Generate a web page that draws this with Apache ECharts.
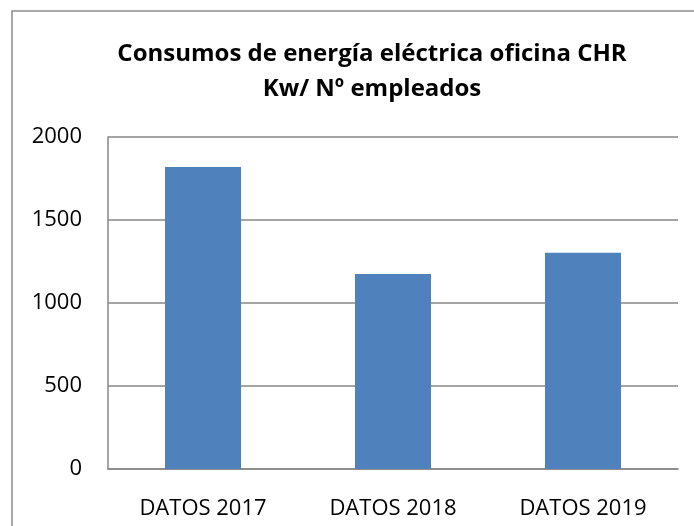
<!DOCTYPE html>
<html>
<head>
<meta charset="utf-8">
<script src="https://cdn.jsdelivr.net/npm/echarts@6/dist/echarts.min.js"></script>
<style>
  html, body { margin: 0; padding: 0; background: #fff; }
  #chart { width: 694px; height: 526px; }
</style>
</head>
<body>
<div id="chart"></div>
<script>
// data
const categories = ['DATOS 2017', 'DATOS 2018', 'DATOS 2019'];
const consumo = [1820, 1175, 1302];
const yTicks = [0, 500, 1000, 1500, 2000];

const chart = echarts.init(document.getElementById('chart'));
const font = '"Open Sans", "Noto Sans", sans-serif';

chart.setOption({
  animation: false,
  title: {
    text: 'Consumos de energía eléctrica oficina CHR\nKw/ Nº empleados',
    left: 367,
    top: 32,
    textAlign: 'center',
    textStyle: {
      fontFamily: font,
      fontWeight: 'bold',
      fontSize: 24,
      lineHeight: 35,
      color: '#000'
    }
  },
  graphic: [{
    type: 'rect',
    shape: { x: 12, y: 11, width: 720, height: 560 },
    style: { fill: 'none', stroke: '#8c8c8c', lineWidth: 1.5 },
    silent: true
  }],
  grid: { left: 108, right: 16, top: 137, bottom: 57 },
  xAxis: {
    type: 'category',
    data: categories,
    axisLine: { lineStyle: { color: '#878787', width: 1.5 } },
    axisTick: { show: false },
    axisLabel: { fontFamily: font, fontSize: 22, color: '#000', margin: 29 }
  },
  yAxis: {
    type: 'value',
    min: yTicks[0],
    max: yTicks[yTicks.length - 1],
    interval: 500,
    axisLine: { show: true, lineStyle: { color: '#878787', width: 1.5 } },
    axisTick: { show: false },
    splitLine: { lineStyle: { color: '#878787', width: 1.5 } },
    axisLabel: {
      fontFamily: font, fontSize: 22, color: '#000', margin: 26,
      formatter: function (v) { return String(v); }
    }
  },
  series: [{
    type: 'bar',
    data: consumo,
    barWidth: '40%',
    itemStyle: { color: '#4f81bd' }
  }]
});
</script>
</body>
</html>
